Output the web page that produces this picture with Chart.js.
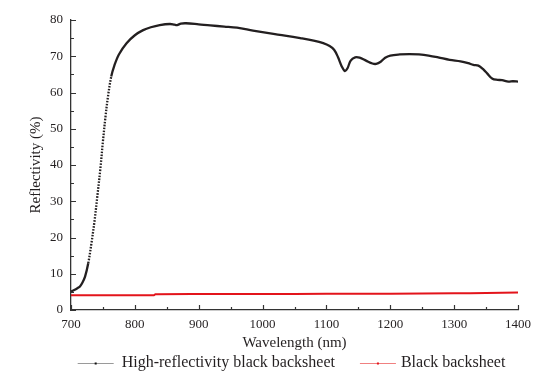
<!DOCTYPE html>
<html>
<head>
<meta charset="utf-8">
<script src="https://cdn.jsdelivr.net/npm/chart.js@4/dist/chart.umd.min.js"></script>
<style>
html,body{margin:0;padding:0;background:#fff;}
#wrap{width:553px;height:383px;}
</style>
</head>
<body>
<div id="wrap"><canvas id="c" width="553" height="383"></canvas></div>
<script>
// ---- data ----
const highWavelength = [700,705,710,714,718,722,727,732,737,741,746,750,754,758,763,768,775,787,800,813,825,839,855,862,866,872,880,900,918,940,960,985,1012,1035,1059,1080,1095,1105,1112,1118,1124,1129,1133,1138,1145,1152,1162,1172,1178,1185,1192,1200,1215,1230,1245,1260,1275,1293,1310,1322,1330,1338,1345,1352,1360,1368,1375,1385,1392,1400];
const highReflectivity = [5.1,5.5,6.0,6.5,7.6,9.2,12.9,18.4,24.8,31.0,39.0,46.5,53.3,59.0,64.4,67.5,70.5,73.6,75.8,77.2,78.0,78.6,78.9,78.7,78.6,79.0,79.1,78.8,78.5,78.2,77.9,77.1,76.3,75.7,75.0,74.3,73.6,72.8,71.8,69.8,67.2,65.9,66.7,68.8,69.7,69.6,68.8,68.0,67.9,68.5,69.6,70.2,70.5,70.6,70.5,70.2,69.7,69.0,68.6,68.1,67.6,67.4,66.5,65.2,63.8,63.5,63.4,63.0,63.1,63.0];
const blackWavelength = [700,760,830,832,900,1000,1100,1200,1300,1350,1400];
const blackReflectivity = [4.1,4.1,4.1,4.35,4.4,4.4,4.45,4.5,4.6,4.7,4.85];
const xTickValues = [700,800,900,1000,1100,1200,1300,1400];
const yTickValues = [0,10,20,30,40,50,60,70,80];
const seriesNames = ['High-reflectivity black backsheet','Black backsheet'];

const TXT = '#231f20';
const FONT = "'Liberation Serif','Times New Roman',serif";

const ticksPlugin = {
  id:'innerTicks',
  afterDatasetsDraw(chart){
    const {ctx, chartArea:a, scales:{x,y}} = chart;
    ctx.save();
    ctx.strokeStyle = '#333'; ctx.lineWidth = 1.2;
    ctx.beginPath();
    for(let v=x.min; v<=x.max; v+=50){
      const px = Math.round(x.getPixelForValue(v))+0.5;
      const len = (v%100===0)?5:3;
      ctx.moveTo(px,a.bottom); ctx.lineTo(px,a.bottom-len);
    }
    for(let v=y.min; v<=y.max; v+=5){
      const py = Math.round(y.getPixelForValue(v))+0.5;
      const len = (v%10===0)?5:3;
      ctx.moveTo(a.left,py); ctx.lineTo(a.left+len,py);
    }
    ctx.stroke();
    ctx.restore();
  }
};

const legendPlugin = {
  id:'customLegend',
  afterDraw(chart){
    const {ctx, chartArea:a} = chart;
    ctx.save();
    ctx.font = '16px ' + FONT;
    ctx.textBaseline = 'middle';
    const w0 = ctx.measureText(seriesNames[0]).width;
    const w1 = ctx.measureText(seriesNames[1]).width;
    const total = 36+8+w0+25+36+5+w1;
    let x0 = (a.left+a.right)/2 - 3 - total/2;
    const yc = 363;
    const items = [
      {line:'#9a9a9a', dot:'#111', gap:8, w:w0},
      {line:'#f08080', dot:'#e3141b', gap:5, w:w1}
    ];
    items.forEach((it,i)=>{
      ctx.strokeStyle = it.line; ctx.lineWidth = 1.2;
      ctx.beginPath(); ctx.moveTo(x0, yc+0.5); ctx.lineTo(x0+36, yc+0.5); ctx.stroke();
      ctx.fillStyle = it.dot; ctx.fillRect(x0+17, yc-0.5, 2, 2);
      ctx.fillStyle = TXT;
      ctx.fillText(seriesNames[i], x0+36+it.gap, yc);
      x0 += 36 + it.gap + it.w + 25;
    });
    ctx.restore();
  }
};

new Chart(document.getElementById('c'), {
  type:'line',
  data:{
    datasets:[
      {
        label: seriesNames[0],
        data: highWavelength.map((w,i)=>({x:w,y:highReflectivity[i]})),
        borderColor:'#231f20', borderWidth:2.3, pointRadius:0, tension:0.35,
        segment:{
          borderDash: c => (Math.abs((c.p1.parsed.y-c.p0.parsed.y)/(c.p1.parsed.x-c.p0.parsed.x))>0.95 ? [1.6,1.4] : undefined)
        }
      },
      {
        label: seriesNames[1],
        data: blackWavelength.map((w,i)=>({x:w,y:blackReflectivity[i]})),
        borderColor:'#e3141b', borderWidth:2, pointRadius:0, tension:0.2
      }
    ]
  },
  options:{
    responsive:false, animation:false,
    layout:{padding:{top:20,right:35,left:0,bottom:28}},
    plugins:{
      legend:{display:false},
      tooltip:{enabled:false}
    },
    scales:{
      x:{
        type:'linear', min:700, max:1400,
        afterBuildTicks(s){ s.ticks = xTickValues.map(v=>({value:v})); },
        grid:{display:false, drawTicks:false},
        border:{display:true, color:'#333', width:1.3},
        ticks:{color:TXT, font:{family:FONT,size:13}, padding:7, maxRotation:0, callback:v=>String(v)},
        title:{display:true, text:'Wavelength (nm)', color:TXT, font:{family:FONT,size:15}, padding:{top:0,bottom:3}},
        afterFit(s){ s.height = 45; }
      },
      y:{
        min:0, max:80,
        afterBuildTicks(s){ s.ticks = yTickValues.map(v=>({value:v})); },
        grid:{display:false, drawTicks:false},
        border:{display:true, color:'#333', width:1.3},
        ticks:{color:TXT, font:{family:FONT,size:13}, padding:8, callback:v=>String(v)},
        title:{display:true, text:'Reflectivity (%)', color:TXT, font:{family:FONT,size:15}, padding:{top:27,bottom:0}},
        afterFit(s){ s.width = 71; }
      }
    }
  },
  plugins:[ticksPlugin, legendPlugin]
});
</script>
</body>
</html>
